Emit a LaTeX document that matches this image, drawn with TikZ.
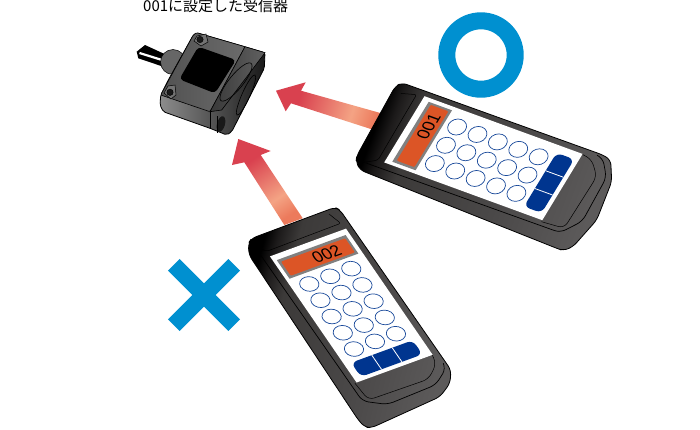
\documentclass[tikz,border=0pt]{standalone}
\usepackage{fontspec}
\newfontfamily\cjkfont{Noto Sans CJK JP}
\newfontfamily\lcdfont{Liberation Sans}
\usetikzlibrary{calc}
\definecolor{markblue}{HTML}{0090D0}
\definecolor{beamred}{HTML}{D9414F}
\definecolor{beampale}{HTML}{F4A384}
\definecolor{beamend}{HTML}{EC7A5C}
\definecolor{keyblue}{HTML}{00358F}
\definecolor{lcdorange}{HTML}{DC5526}
\definecolor{caseA}{HTML}{1C1A1A}
\definecolor{caseB}{HTML}{3C3A39}
\definecolor{caseC}{HTML}{4A4848}
\definecolor{caseD}{HTML}{5C5A5A}
\pgfdeclarehorizontalshading{beamshade}{100bp}{color(0bp)=(beamred); color(33bp)=(beamred); color(62bp)=(beampale); color(75bp)=(beamend); color(100bp)=(beamend)}
\pgfdeclarehorizontalshading{caseshade}{100bp}{color(0bp)=(black); color(25bp)=(black); color(28bp)=(caseA); color(33bp)=(caseB); color(55bp)=(caseC); color(75bp)=(caseD); color(100bp)=(caseD)}
\tikzset{
	beam/.style={shading=beamshade},
	casing/.style={draw=black, line width=0.8pt, rounded corners=5pt, shading=caseshade},
	rim/.style={draw=black, line width=0.7pt, rounded corners=6pt},
	keycap/.style={draw=keyblue!90, fill=white, line width=0.7pt},
}
\def\handset[#1]#2#3#4#5{
	\begin{scope}[#1]
		\draw[rim] (-0.03, 0.05) -- (-0.015, 0.98) -- (0.2, 1.04) -- (0.78, 1.03) -- (0.98, 0.97) -- (0.99, 0.94);
		\draw[rim, line width=0.5pt] (0.03, 0.88) -- (0.05, 0.985) -- (0.75, 0.99) -- (0.92, 0.93) -- (0.94, 0.88);
		\draw[rim, line width=0.5pt, rounded corners=2pt] (0.88, 0.02) -- (0.93, 0.085) -- (0.05, 0.09) -- (-0.03, 0.04);
		\fill[white] (0.05, 0.12) -- (0.945, 0.12) -- (0.945, 0.88) -- (0.05, 0.88) -- cycle;
		\fill[black!50] (0.09, 0.15) -- (0.9, 0.15) -- (0.9, 0.262) -- (0.09, 0.262) -- cycle;
		\fill[lcdorange, rounded corners=1pt] (0.12, 0.165) -- (0.875, 0.165) -- (0.875, 0.25) -- (0.12, 0.25) -- cycle;
		\node[font=\lcdfont\fontsize{17}{17}\selectfont, inner sep=0pt, cm={#5,(0,0)}] (#2) at (#4, 0.208) {#3};
		\foreach \btnu in {0.242, 0.489, 0.736}
			\foreach \btnv in {0.322, 0.42, 0.518, 0.616, 0.714}
				\draw[keycap] (\btnu, \btnv) circle [x radius=0.1, y radius=0.04];
		\fill[keyblue, rounded corners=6pt] (0.127, 0.775) -- (0.852, 0.775) -- (0.852, 0.86) -- (0.127, 0.86) -- cycle;
		\draw[white, line width=0.8pt] (0.37, 0.775) -- (0.37, 0.86);
		\draw[white, line width=0.8pt] (0.61, 0.775) -- (0.61, 0.86);
	\end{scope}
}

\begin{document}
\begin{tikzpicture}[x=1pt, y=-1pt]
	\useasboundingbox (0, 0) rectangle (700, 429);

	\node[font=\cjkfont\fontsize{15}{15}\selectfont, anchor=west, inner sep=0pt] (title) at (143, 6) {001に設定した受信器};

	% marks
	\draw[markblue, line width=17pt] (481, 55) circle (34.2pt);
	\draw[markblue, line width=16.5pt] (173.8, 264.8) -- (234.2, 325.2);
	\draw[markblue, line width=16.5pt] (234.2, 264.8) -- (173.8, 325.2);

	% beams
	\shade[beam, shading angle=-18] (276, 90.7) -- (305.7, 82.3) -- (301, 90.7) -- (385, 114.3) -- (371.7, 129.3) -- (291, 103.3) -- (285.7, 111.3) -- cycle;
	\shade[beam, shading angle=-56] (238.3, 139) -- (270.7, 151) -- (260.7, 155) -- (302.7, 218.3) -- (284.3, 225) -- (244.3, 162.3) -- (232, 165) -- cycle;

	% handset 001
	\shade[casing, shading angle=-20] (401.7, 82.7) -- (395, 86.7) -- (356.7, 156) -- (356, 161.7) -- (360, 170) -- (556.7, 248.3) -- (563.3, 250.7) -- (573, 246.7) -- (596.7, 220) -- (611.7, 181.7) -- (610.7, 160) -- (603, 155) -- cycle;
	\handset[shift={(357, 157)}, x={(45pt, 74pt)}, y={(208pt, -76pt)}]{lcdone}{001}{0.63}{0.52,0.855,-0.94,0.34}

	% handset 002
	\shade[casing, shading angle=-15] (251.7, 238.3) -- (248.3, 243.3) -- (249, 255) -- (358.3, 420) -- (365, 427.3) -- (371.7, 427.7) -- (440, 396.7) -- (450, 383.3) -- (451, 370) -- (340, 210) -- (335, 207.3) -- cycle;
	\handset[shift={(252, 238)}, x={(85pt, 31pt)}, y={(114pt, -166pt)}]{lcdtwo}{002}{0.6}{0.94,0.34,-0.566,0.824}

	% receiver
	\fill[black] (145, 45) -- (166.7, 55) -- (163.3, 66.7) -- (138.3, 58.3) -- (136.7, 51.7) -- cycle;
	\draw[white, line width=2.2pt] (139.5, 53) -- (162, 60);
	\draw[black, line width=0.5pt, fill=black!60] (173, 62) circle (12.5pt);
	\draw[black, line width=0.8pt, rounded corners=2pt, left color=black!45, right color=black!90] (163.3, 111.7) -- (160, 105) -- (160.7, 95) -- (168.3, 80) -- (193.3, 35) -- (196.7, 32.7) -- (265, 52.7) -- (264.3, 68.3) -- (231.7, 131.7) -- (226.7, 135) -- (210, 128.3) -- cycle;
	\draw[black, line width=0.6pt, rounded corners=1pt, left color=black!68, right color=black!58] (160.7, 95) -- (210, 111.7) -- (245, 46.7) -- (196.7, 32.7) -- (193.3, 35) -- cycle;
	\draw[black, line width=0.6pt, left color=black!78, right color=black!62] (245, 46.7) -- (265, 52.7) -- (221.7, 110) -- (210, 111.7) -- cycle;
	\draw[black, line width=0.6pt] (210, 111.7) -- (210, 128.3);
	\fill[black, rounded corners=4pt] (198.3, 46.7) -- (236, 60) -- (215, 93.3) -- (179.3, 79.3) -- cycle;
	\draw[black, line width=0.6pt, shift={(236, 82)}, rotate=51] (0, 0) ellipse [x radius=24pt, y radius=7pt];
	\draw[black, line width=0.6pt, shift={(246, 95)}, rotate=66] (0, 0) ellipse [x radius=22pt, y radius=4pt];
	\fill[black!90, shift={(221, 124)}, rotate=75] (0, 0) ellipse [x radius=8pt, y radius=4pt];
	\draw[black, line width=0.6pt] (217, 116) -- (217, 133);
	\draw[black, line width=0.5pt, fill=black!55] (197, 36) -- (206, 34) -- (208, 42) -- (201, 46) -- (194, 41) -- cycle;
	\draw[black, fill=black!90] (200, 39.5) circle (3.2pt);
	\draw[black, line width=0.5pt, fill=black!55] (168, 86) -- (175, 85) -- (176, 95) -- (171, 99) -- (164, 93) -- cycle;
	\draw[black, fill=black!90] (170, 92.3) circle (3.2pt);
\end{tikzpicture}
\end{document}
